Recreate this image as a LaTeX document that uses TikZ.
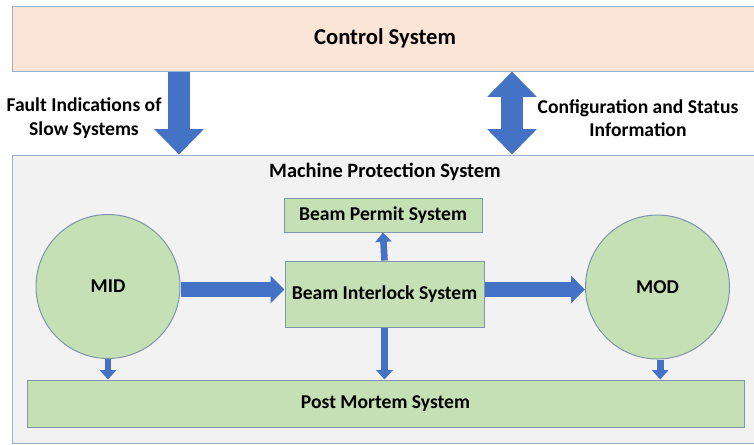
\documentclass[tikz,border=0pt]{standalone}
\usepackage{fontspec}
\setmainfont{Carlito}
\usetikzlibrary{arrows.meta, positioning}
\definecolor{peach}{HTML}{FBE5D6}
\definecolor{panelgray}{HTML}{F2F2F2}
\definecolor{paleblue}{HTML}{9CB0CC}
\definecolor{leafgreen}{HTML}{C5E0B4}
\definecolor{greenline}{HTML}{7F95AE}
\definecolor{arrowblue}{HTML}{4472C4}

\begin{document}
\begin{tikzpicture}[x=0.75pt, y=-0.75pt,
    font=\bfseries\fontsize{14.7}{17.5}\selectfont,
    panel/.style={draw=paleblue, line width=0.75pt, inner sep=0pt},
    greenbox/.style={draw=greenline, fill=leafgreen, line width=0.75pt, inner sep=0pt},
    disc/.style={greenbox, circle, minimum size=108pt},
    bigarrow/.style={draw=arrowblue, line width=17pt, -{Triangle[width=36pt,length=19pt]}},
    midarrow/.style={draw=arrowblue, line width=11pt, -{Triangle[width=20pt,length=10.5pt]}},
    smallarrow/.style={draw=arrowblue, line width=5pt, -{Triangle[width=12pt,length=7pt]}}]
  \useasboundingbox (0,0) rectangle (754,444);
  \clip (0,0) rectangle (754,444);

  \node (ctrl) [panel, fill=peach, minimum width=559.5pt, minimum height=48.75pt,
    font=\bfseries\fontsize{17}{20}\selectfont] at (385,38.5) {Control System};
  \node (mps) [panel, fill=panelgray, minimum width=559.5pt, minimum height=216pt] at (385,299) {};
  \node (mpstitle) [below=3pt of mps.north, font=\bfseries\fontsize{15.3}{18}\selectfont]
    {Machine Protection System};

  \node (bps) [greenbox, minimum width=148.5pt, minimum height=25.5pt] at (383,215) {Beam Permit System};
  \node (bis) [greenbox, minimum width=149.25pt, minimum height=49.5pt] at (384.5,294) {Beam Interlock System};
  \node (mid) [disc] at (108,286.5) {MID};
  \node (mod) [disc] at (657.5,287) {MOD};
  \node (pms) [greenbox, minimum width=537.75pt, minimum height=35.25pt] at (385.5,403.5) {Post Mortem System};

  \node (faultlbl) [align=center] at (84,118) {Fault Indications of\\Slow Systems};
  \node (configlbl) [align=center] at (638,118) {Configuration and Status\\Information};

  \coordinate (fx) at (179,0);
  \coordinate (cx) at (512,0);
  \coordinate (hy) at (0,289.5);

  \draw[bigarrow] (ctrl.south -| fx) -- (mps.north -| fx);
  \draw[bigarrow, {Triangle[width=36pt,length=19pt]}-{Triangle[width=36pt,length=19pt]}]
    (ctrl.south -| cx) -- (mps.north -| cx);
  \draw[midarrow] (mid.east |- hy) -- (bis.west |- hy);
  \draw[midarrow] (bis.east |- hy) -- (mod.west |- hy);
  \draw[smallarrow] (bis.north) -- (bps.south);
  \draw[smallarrow] (bis.south) -- (bis.south |- pms.north);
  \draw[smallarrow] (mid.south) -- (mid.south |- pms.north);
  \draw[smallarrow] ([xshift=2pt]mod.south) -- ([xshift=2pt]mod.south |- pms.north);
\end{tikzpicture}
\end{document}
